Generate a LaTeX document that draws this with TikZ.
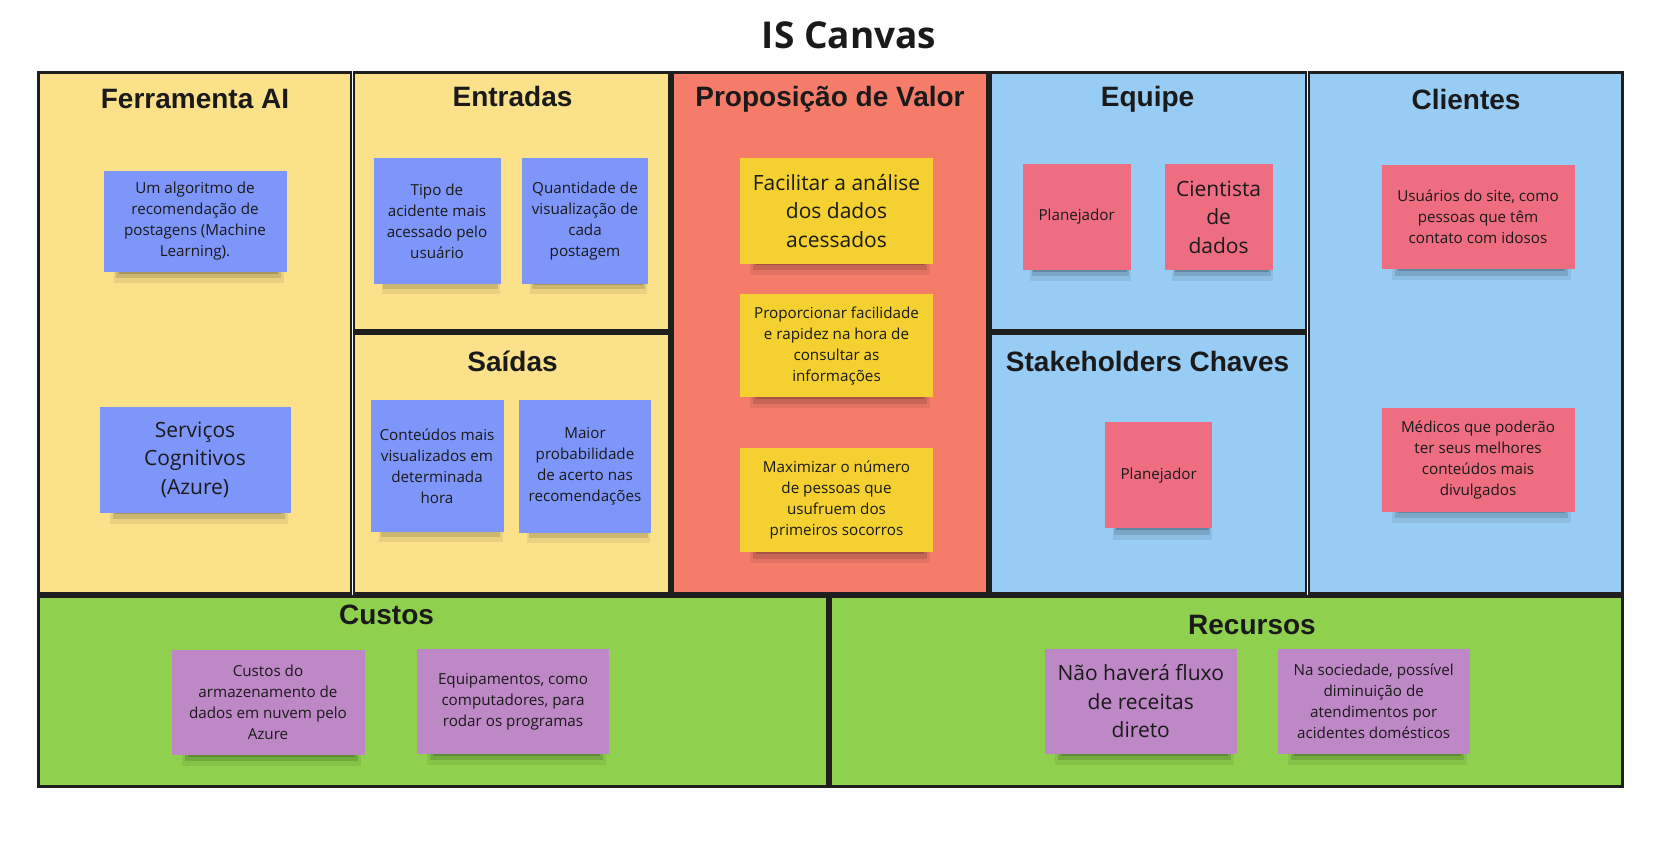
\documentclass[tikz,border=0pt]{standalone}
\usepackage{fontspec}
\setmainfont{Open Sans}
\newfontfamily\headfont{Liberation Sans}
\usetikzlibrary{shadows}

\definecolor{contorno}{HTML}{1E1E1E}
\definecolor{texto}{HTML}{1A1A1A}
\definecolor{amarelo}{HTML}{FBE18A}
\definecolor{salmao}{HTML}{F57C69}
\definecolor{azul}{HTML}{97CCF5}
\definecolor{verde}{HTML}{8FD14F}
\definecolor{notaAzul}{HTML}{7E95FA}
\definecolor{notaAmarela}{HTML}{F4D030}
\definecolor{notaRosa}{HTML}{EE6D80}
\definecolor{notaRoxa}{HTML}{BE88C7}

\tikzset{
  quadro/.style={draw=contorno, line width=2.5pt},
  cabecalho/.style={font=\headfont\bfseries\fontsize{28}{32}\selectfont, text=texto},
  sombra/.style={
    general shadow={fill=black, opacity=0.07, shadow scale=0.93,
      shadow xshift=4pt, shadow yshift=-16pt},
    general shadow={fill=black, opacity=0.12, shadow scale=0.9,
      shadow xshift=4pt, shadow yshift=-13pt},
    general shadow={fill=black, opacity=0.18, shadow scale=0.87,
      shadow xshift=4pt, shadow yshift=-10pt}},
  nota/.style={sombra, minimum width=193pt, minimum height=104pt, inner sep=2pt,
    align=center, text=texto, font=\fontsize{15.2}{21}\selectfont},
  notagrande/.style={font=\fontsize{21}{28.5}\selectfont},
}

\begin{document}
\begin{tikzpicture}[x=1pt, y=-1pt]
    \useasboundingbox[fill=white] (0,0) rectangle (1660,848);
    \node[font=\bfseries\fontsize{37}{40}\selectfont, text=texto] (titulo) at (849,35) {IS Canvas};

    % quadros do canvas
    \draw[quadro, fill=amarelo] (38.5,72.5) rectangle (351,593.5);
    \draw[quadro, fill=amarelo] (354,72.5) rectangle (669.5,330.5);
    \draw[quadro, fill=amarelo] (354,333.5) rectangle (669.5,593.5);
    \draw[quadro, fill=salmao] (672.5,72.5) rectangle (987.5,593.5);
    \draw[quadro, fill=azul] (990.5,72.5) rectangle (1306,330.5);
    \draw[quadro, fill=azul] (990.5,333.5) rectangle (1306,593.5);
    \draw[quadro, fill=azul] (1309,72.5) rectangle (1622.5,593.5);
    \draw[quadro, fill=verde] (38.5,596.5) rectangle (827.5,786.5);
    \draw[quadro, fill=verde] (830.5,596.5) rectangle (1622.5,786.5);

    % cabecalhos
    \node[cabecalho] (ferramenta) at (195,99.5) {Ferramenta AI};
    \node[cabecalho] (entradas) at (512.5,96) {Entradas};
    \node[cabecalho] (proposicao) at (830,99.5) {Proposição de Valor};
    \node[cabecalho] (equipe) at (1147.6,99) {Equipe};
    \node[cabecalho] (clientes) at (1466,99.5) {Clientes};
    \node[cabecalho] (saidas) at (512.5,361) {Saídas};
    \node[cabecalho] (stakeholders) at (1147.6,361) {Stakeholders Chaves};
    \node[cabecalho] (custos) at (386.5,615) {Custos};
    \node[cabecalho] (recursos) at (1252,624.5) {Recursos};

    % notas
    \node[nota, fill=notaAzul, minimum width=183pt, minimum height=101pt] (algoritmo) at (195,221)
        {Um algoritmo de\\recomendação de\\postagens (Machine\\Learning).};
    \node[nota, notagrande, fill=notaAzul, minimum width=191pt, minimum height=106pt] (servicos) at (195,459.5)
        {Serviços\\Cognitivos\\(Azure)};
    \node[nota, fill=notaAzul, minimum width=127pt, minimum height=125pt] (tipo) at (437,221)
        {Tipo de\\acidente mais\\acessado pelo\\usuário};
    \node[nota, fill=notaAzul, minimum width=126pt, minimum height=126pt] (quantidade) at (585,221)
        {Quantidade de\\visualização de\\cada\\postagem};
    \node[nota, fill=notaAzul, minimum width=133pt, minimum height=132pt] (conteudos) at (437,466)
        {Conteúdos mais\\visualizados em\\determinada\\hora};
    \node[nota, fill=notaAzul, minimum width=132pt, minimum height=133pt] (maior) at (585,466)
        {Maior\\probabilidade\\de acerto nas\\recomendações};
    \node[nota, notagrande, fill=notaAmarela, minimum height=105pt] (facilitar) at (836.5,211)
        {Facilitar a análise\\dos dados\\acessados};
    \node[nota, fill=notaAmarela, minimum height=103pt] (proporcionar) at (836.5,345.7)
        {Proporcionar facilidade\\e rapidez na hora de\\consultar as\\informações};
    \node[nota, fill=notaAmarela] (maximizar) at (836.5,500)
        {Maximizar o número\\de pessoas que\\usufruem dos\\primeiros socorros};
    \node[nota, fill=notaRosa, minimum width=108pt, minimum height=106pt] (planejador) at (1076.7,217)
        {Planejador};
    \node[nota, notagrande, fill=notaRosa, minimum width=108pt, minimum height=106pt] (cientista) at (1218.6,217)
        {Cientista\\de\\dados};
    \node[nota, fill=notaRosa] (usuarios) at (1478,217)
        {Usuários do site, como\\pessoas que têm\\contato com idosos};
    \node[nota, fill=notaRosa, minimum width=107pt, minimum height=106pt] (planejadorB) at (1158.7,475.4)
        {Planejador};
    \node[nota, fill=notaRosa] (medicos) at (1478,459.5)
        {Médicos que poderão\\ter seus melhores\\conteúdos mais\\divulgados};
    \node[nota, fill=notaRoxa, minimum height=105pt] (armazenamento) at (268,702.5)
        {Custos do\\armazenamento de\\dados em nuvem pelo\\Azure};
    \node[nota, fill=notaRoxa, minimum width=192pt, minimum height=105pt] (equipamentos) at (513,701.4)
        {Equipamentos, como\\computadores, para\\rodar os programas};
    \node[nota, notagrande, fill=notaRoxa, minimum width=192pt, minimum height=105pt] (fluxo) at (1140.8,701.4)
        {Não haverá fluxo\\de receitas\\direto};
    \node[nota, fill=notaRoxa, minimum width=192pt, minimum height=105pt] (sociedade) at (1373.7,701.4)
        {Na sociedade, possível\\diminuição de\\atendimentos por\\acidentes domésticos};
\end{tikzpicture}
\end{document}
